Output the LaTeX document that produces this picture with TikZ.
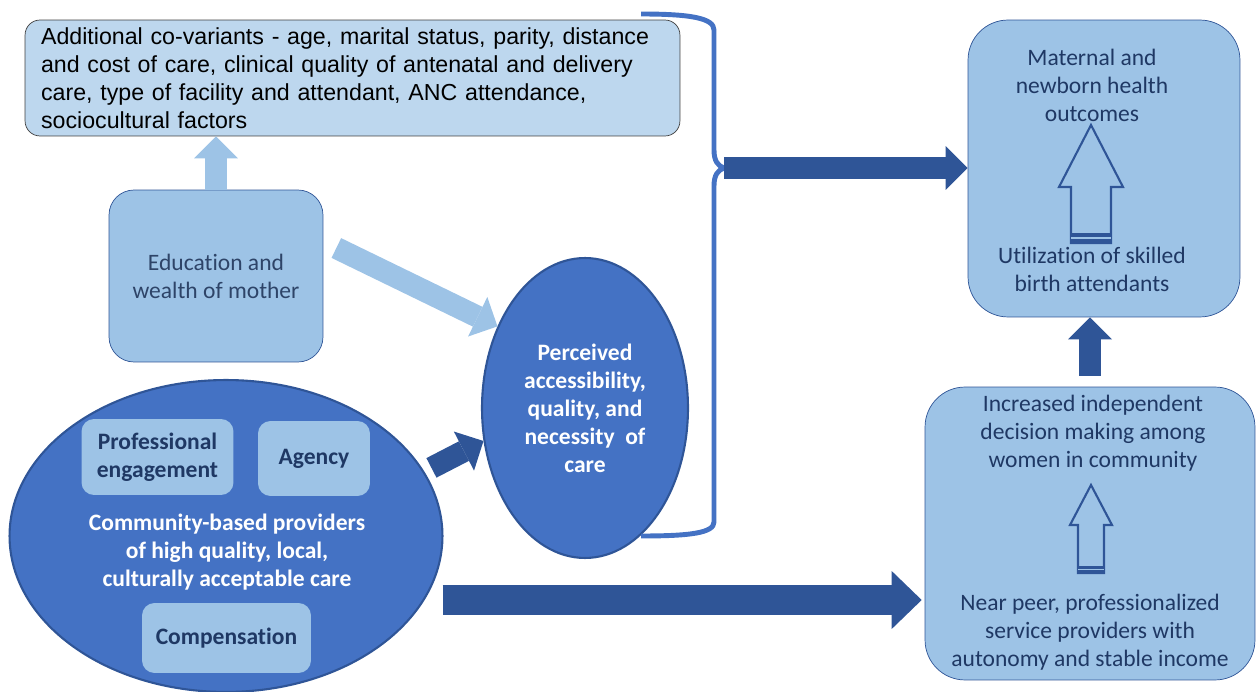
\documentclass[tikz,border=0pt]{standalone}
\usepackage{fontspec}
\setmainfont{Carlito}[Ligatures=NoCommon]
\newfontfamily\arialfont{Liberation Sans}
\usepackage{tikz}
\usetikzlibrary{positioning, arrows.meta, shapes.geometric}
\usepackage{xcolor}
\definecolor{paleblue}{HTML}{BDD7EE}
\definecolor{lightblue}{HTML}{9DC3E6}
\definecolor{midblue}{HTML}{4472C4}
\definecolor{darkblue}{HTML}{2F5597}
\definecolor{navytext}{HTML}{1F3864}
\definecolor{slatetext}{HTML}{2E4468}

% hollow block arrow: x, tip, head base, bottom, head half width, shaft half width, band
\newcommand\hollowarrow[7]{%
  \draw[darkblue, line width=1.2pt, fill=lightblue, line join=miter]
    (#1,#2) -- (#1+#5,#3) -- (#1+#6,#3) -- (#1+#6,#4) -- (#1-#6,#4)
    -- (#1-#6,#3) -- (#1-#5,#3) -- cycle;
  \fill[darkblue] (#1-#6,#4-#7) rectangle (#1+#6,#4);
  \draw[lightblue, line width=0.8pt] (#1-#6,#4-#7/2) -- (#1+#6,#4-#7/2);}

\begin{document}
\begin{tikzpicture}[x=0.02cm, y=-0.02cm, font=\fontsize{13.4}{15.9}\selectfont,
    box/.style={draw=darkblue, fill=lightblue, thin, inner sep=0pt},
    inbox/.style={fill=lightblue, rounded corners=0.25cm, text=navytext,
                  font=\fontsize{13.4}{15.9}\selectfont\bfseries, align=center, inner sep=0pt},
    oval/.style={ellipse, draw=darkblue, fill=midblue, line width=1.2pt, inner sep=0pt,
                 text=white, font=\fontsize{13.4}{15.9}\selectfont\bfseries, align=center},
    txt/.style={text=navytext, align=center},
    blk/.style={line width=0.44cm, -{Triangle[length=0.44cm, width=0.88cm, line width=0pt]}},
    fatblk/.style={line width=0.6cm, -{Triangle[length=0.6cm, width=1.16cm, line width=0pt]}}]

    \useasboundingbox (0,0) rectangle (1258,692);

    % left side
    \node[draw=black!75, fill=paleblue, rounded corners=0.3cm, thin, inner xsep=0.32cm,
          text width=12.46cm, minimum height=2.32cm, align=left,
          font=\arialfont\fontsize{13.2}{15.9}\selectfont] (covar) at (352.5,78)
          {Additional co-variants - age, marital status, parity, distance\\
           and cost of care, clinical quality of antenatal and delivery\\
           care, type of facility and attendant, ANC attendance,\\
           sociocultural factors};
    \node[box, rounded corners=0.5cm, minimum width=4.28cm, minimum height=3.44cm,
          text=slatetext, align=center] (edu) at (216,276) {Education and\\wealth of mother};
    \node[oval, minimum width=8.66cm, minimum height=6.24cm] (comm) at (226,536) {};
    \node[inbox, minimum width=3.04cm, minimum height=1.52cm] (prof) at (157.5,457) {Professional\\engagement};
    \node[inbox, minimum width=2.24cm, minimum height=1.5cm] (agency) at (314,458.5) {Agency};
    \node[inbox, minimum width=3.38cm, minimum height=1.4cm] (comp) at (226.5,638) {Compensation};
    \node[text=white, font=\fontsize{13.4}{15.9}\selectfont\bfseries, align=center] (commtxt) at (227,552)
          {Community-based providers\\of high quality, local,\\culturally acceptable care};
    \node[oval, minimum width=4.12cm, minimum height=6cm] (percv) at (585,408)
          {Perceived\\accessibility,\\quality, and\\necessity~ of\\care};

    % right side
    \node[box, rounded corners=0.8cm, minimum width=5.44cm, minimum height=5.94cm] (outbox) at (1104,168.5) {};
    \node[txt] (outtxt) at (1092,85) {Maternal and\\newborn health\\outcomes};
    \node[txt] (utiltxt) at (1092,269) {Utilization of skilled\\birth attendants};
    \node[box, rounded corners=0.8cm, minimum width=6.6cm, minimum height=5.86cm] (peerbox) at (1090,533.5) {};
    \node[txt] (dectxt) at (1093,433) {Increased independent\\decision making among\\women in community};
    \node[txt] (peertxt) at (1090,632) {Near peer, professionalized\\service providers with\\autonomy and stable income};

    \hollowarrow{1091}{125}{187}{243}{32}{20}{10}
    \hollowarrow{1091}{485}{525}{573}{21}{13}{7}

    % bracket
    \draw[midblue, line width=2.8pt] (641,14) .. controls (690,14) and (714,18) .. (714,30)
        -- (714,150) .. controls (714,161) and (718,166) .. (724,168)
        coordinate (cusp)
        .. controls (718,170) and (714,175) .. (714,186)
        -- (714,522) .. controls (714,533) and (690,536) .. (641,536);

    % connectors
    \coordinate (lowrow) at (0,600);
    \draw[blk, lightblue] (edu.north) -- (edu.north |- covar.south);
    \draw[blk, lightblue] ([shift={(13,-28)}]edu.east) -- (percv.137);
    \draw[blk, darkblue, shorten <=0.16cm] (comm.18) -- (percv.198);
    \draw[blk, darkblue] (cusp) -- (cusp -| outbox.west);
    \draw[fatblk, darkblue, shorten <=-0.02cm, shorten >=0.06cm] (comm.east |- lowrow) -- (peerbox.west |- lowrow);
    \draw[blk, darkblue, shorten <=0.22cm] (peerbox.north) -- (peerbox.north |- outbox.south);
\end{tikzpicture}
\end{document}
